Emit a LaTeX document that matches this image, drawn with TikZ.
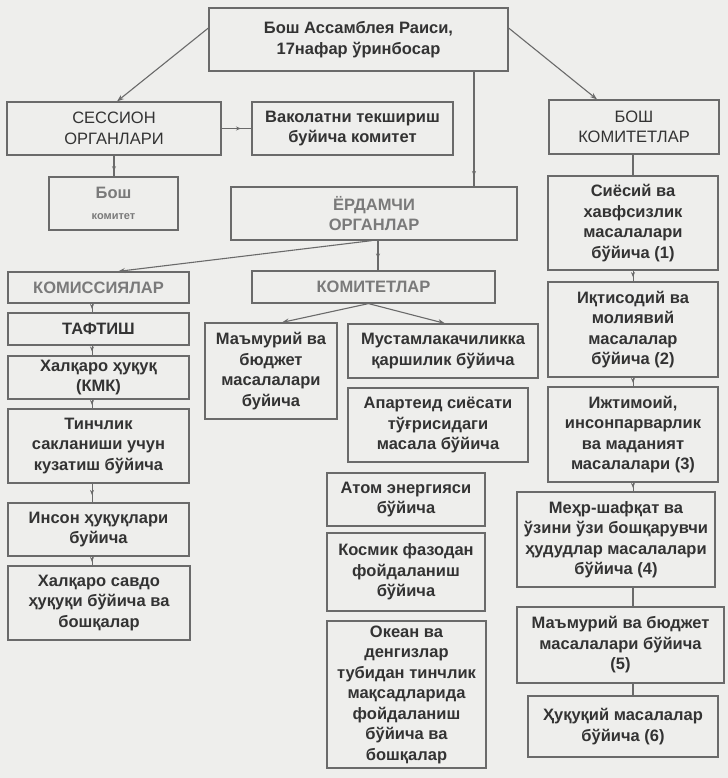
\documentclass[tikz,border=0pt]{standalone}
\usepackage{fontspec}
\setmainfont{Liberation Sans}
\usetikzlibrary{arrows.meta,decorations.markings}
\definecolor{paper}{HTML}{EEEEEC}
\definecolor{ink}{HTML}{333333}
\definecolor{edge}{HTML}{6A6A6A}
\definecolor{pale}{HTML}{7A7A7A}
\tikzset{
  box/.style={draw=edge, line width=1.2bp, align=center, inner sep=0pt, text=ink,
    font=\fontsize{16.5bp}{20.5bp}\selectfont\bfseries},
  thin/.style={font=\fontsize{16.5bp}{20.5bp}\selectfont},
  paletext/.style={text=pale},
  conn/.style={draw=edge, line width=1.1bp},
  tick/.style={draw=edge, line width=0.7bp},
  tip/.style={-{Stealth[length=7bp,width=5bp]}},
  midarr/.style={postaction={decorate},decoration={markings,
    mark=at position #1 with {\arrow{Stealth[length=5bp,width=4bp]}}}},
}
\newcommand\bx[7][]{\node[box,#1,minimum width={(#5-#3)*1bp},minimum height={(#6-#4)*1bp}] (#2) at ({(#3+#5)/2},{(#4+#6)/2}) {#7};}
\begin{document}
\begin{tikzpicture}[x=1bp,y=-1bp]
\fill[paper] (0,0) rectangle (728,778);
\useasboundingbox (0,0) rectangle (728,778);
% top row
\bx{top}{209}{8}{508}{71}{Бош Ассамблея Раиси,\\17нафар ўринбосар}
\bx[thin]{sess}{7}{102}{221}{155}{СЕССИОН\\ОРГАНЛАРИ}
\bx{vak}{252}{102}{453}{155}{Ваколатни текшириш\\буйича комитет}
\bx[thin]{bk}{549}{100}{719}{154}{БОШ\\КОМИТЕТЛАР}
\bx[paletext]{bkm}{49}{177}{178}{230}{Бош\\{\fontsize{11bp}{16bp}\selectfont комитет}}
\bx[paletext]{erd}{231}{187}{517}{240}{ЁРДАМЧИ\\ОРГАНЛАР}
% left column
\bx[paletext]{kms}{8}{272}{189}{303}{КОМИССИЯЛАР}
\bx{taf}{8}{313}{189}{345}{ТАФТИШ}
\bx{hal}{8}{356}{189}{399}{Халқаро ҳуқуқ\\(КМК)}
\bx{tin}{8}{409}{189}{483}{Тинчлик\\сакланиши учун\\кузатиш бўйича}
\bx{ins}{8}{503}{189}{556}{Инсон ҳуқуқлари\\буйича}
\bx{sav}{8}{566}{190}{640}{Халқаро савдо\\ҳуқуқи бўйича ва\\бошқалар}
% middle
\bx[paletext]{kmt}{252}{271}{495}{303}{КОМИТЕТЛАР}
\bx{mam}{205}{323}{337}{419}{Маъмурий ва\\бюджет\\масалалари\\буйича}
\bx{must}{348}{324}{538}{378}{Мустамлакачиликка\\қаршилик бўйича}
\bx{apar}{348}{388}{528}{462}{Апартеид сиёсати\\тўғрисидаги\\масала бўйича}
\bx{atom}{327}{473}{485}{526}{Атом энергияси\\бўйича}
\bx{kos}{327}{533}{485}{611}{Космик фазодан\\фойдаланиш\\бўйича}
\bx{okn}{327}{621}{486}{768}{Океан ва\\денгизлар\\тубидан тинчлик\\мақсадларида\\фойдаланиш\\бўйича ва\\бошқалар}
% right column
\bx{c1}{548}{176}{718}{270}{Сиёсий ва\\хавфсизлик\\масалалари\\бўйича (1)}
\bx{c2}{548}{282}{718}{377}{Иқтисодий ва\\молиявий\\масалалар\\бўйича (2)}
\bx{c3}{548}{387}{718}{482}{Ижтимоий,\\инсонпарварлик\\ва маданият\\масалалари (3)}
\bx{c4}{517}{492}{715}{587}{Меҳр-шафқат ва\\ўзини ўзи бошқарувчи\\ҳудудлар масалалари\\бўйича (4)}
\bx{c5}{517}{607}{724}{683}{Маъмурий ва бюджет\\масалалари бўйича\\(5)}
\bx{c6}{528}{696}{718}{757}{Ҳуқуқий масалалар\\бўйича (6)}
% connectors
\draw[conn,tip] ([yshift=11.5bp]top.west) -- ([xshift=3bp]sess.north);
\draw[conn,tip] ([yshift=11.5bp]top.east) -- ([xshift=-37bp]bk.north);
\coordinate (t1) at ([xshift=115.5bp]top.south);
\draw[conn,midarr=0.91] (t1) -- (t1 |- erd.north);
\draw[conn,midarr=0.65] (sess.east) -- (vak.west);
\draw[conn,midarr=0.75] (sess.south) -- (sess.south |- bkm.north);
\draw[conn,tip] ([xshift=-2bp]erd.south) -- ([xshift=19.5bp]kms.north);
\coordinate (e1) at ([xshift=4bp]erd.south);
\draw[conn,midarr=0.6] (e1) -- (e1 |- kmt.north);
\coordinate (k1) at ([xshift=-5bp]kmt.south);
\draw[conn,tip] (k1) -- ([xshift=11bp]mam.north);
\draw[conn,tip] (k1) -- ([xshift=2bp]must.north);
% left column ticks
\coordinate (l0) at ([xshift=-6.5bp]kms.south);
\draw[tick,midarr=0.6] (l0) -- (l0 |- taf.north);
\draw[tick,midarr=0.6] (l0 |- taf.south) -- (l0 |- hal.north);
\draw[tick,midarr=0.6] (l0 |- hal.south) -- (l0 |- tin.north);
\draw[tick,midarr=0.6] (l0 |- tin.south) -- (l0 |- ins.north);
\draw[tick,midarr=0.6] (l0 |- ins.south) -- (l0 |- sav.north);
% right column links
\draw[conn] (c1.north |- bk.south) -- (c1.north);
\draw[tick,midarr=0.6] (c1.south) -- (c1.south |- c2.north);
\draw[tick,midarr=0.6] (c2.south) -- (c2.south |- c3.north);
\draw[tick,midarr=0.6] (c3.south) -- (c3.south |- c4.north);
\draw[conn] (c1.south |- c4.south) -- (c1.south |- c5.north);
\draw[conn] (c1.south |- c5.south) -- (c1.south |- c6.north);
\end{tikzpicture}
\end{document}
